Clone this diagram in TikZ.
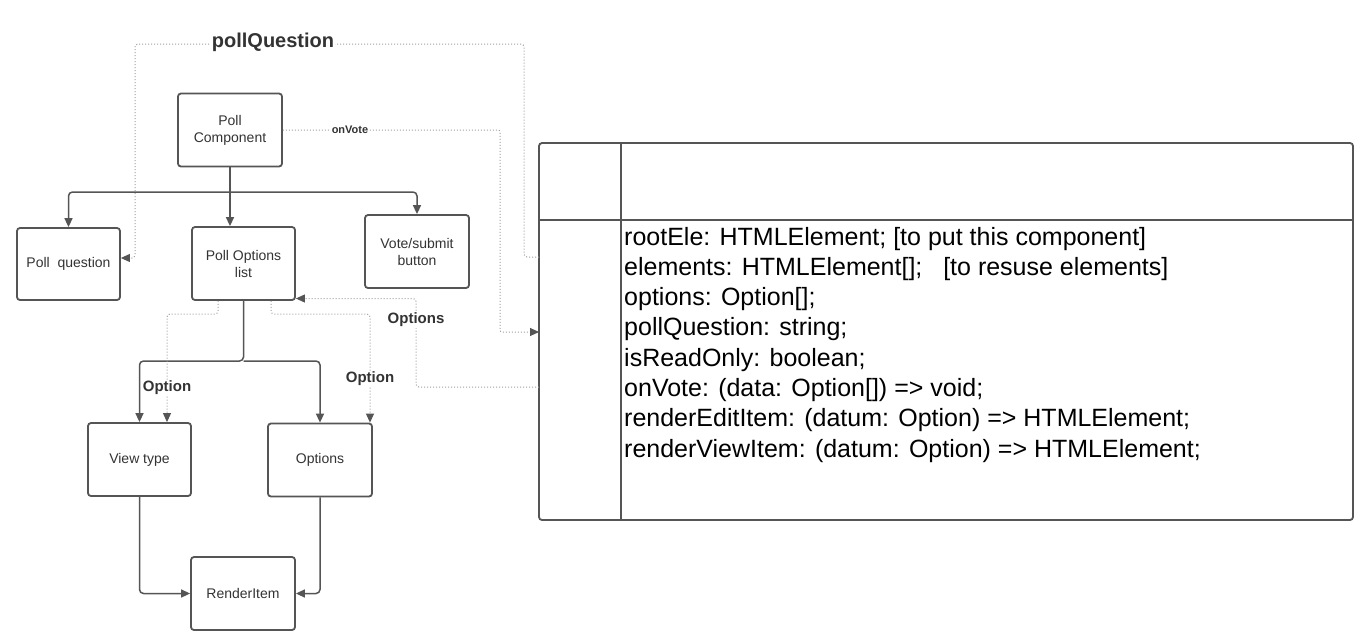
\documentclass[tikz,border=0pt]{standalone}
\usepackage{fontspec}
\setmainfont{Liberation Sans}
\usetikzlibrary{arrows.meta}
\definecolor{ln}{HTML}{555555}
\definecolor{dl}{HTML}{A0A0A0}
\definecolor{tx}{HTML}{333333}
\begin{document}
\begin{tikzpicture}[x=1pt,y=-1pt,
  box/.style={draw=ln,line width=1.8pt,rounded corners=3pt,minimum width=104pt,minimum height=73pt,align=center,font=\fontsize{14}{17}\selectfont,text=tx,inner sep=0pt},
  conn/.style={draw=ln,line width=1.5pt,rounded corners=4pt,-{Triangle[length=9pt,width=8pt,color=ln]}},
  dconn/.style={draw=dl,line width=1pt,dotted,rounded corners=3pt,-{Triangle[length=9pt,width=8pt,color=ln]}},
  lbl/.style={font=\bfseries\fontsize{15}{18}\selectfont,text=tx,fill=white,inner sep=1pt},
  attr/.style={font=\fontsize{25}{30}\selectfont,text=black,inner sep=0pt,anchor=base west}]
\useasboundingbox[fill=white] (0,0) rectangle (1368,638);

% boxes
\node[box] (pc) at (230,130) {Poll\\Component};
\node[box,minimum width=103pt,minimum height=72pt] (pq) at (68.5,264) {Poll\ \ question};
\node[box,minimum width=103pt] (pol) at (243.5,263.5) {Poll Options\\list};
\node[box] (vote) at (417,251.5) {Vote/submit\\button};
\node[box,minimum width=103pt] (view) at (139.5,459.5) {View type};
\node[box] (opts) at (320,460) {Options};
\node[box] (ri) at (243,593.5) {RenderItem};

% table
\node[draw=ln,line width=1.8pt,rounded corners=3pt,minimum width=814pt,minimum height=377pt,inner sep=0pt] (tbl) at (946,331.5) {};
\draw[ln,line width=1.8pt] (621,143) -- (621,520);
\draw[ln,line width=1.8pt] (539,220) -- (1353,220);

\node[attr] (a1) at (624,245) {rootEle: HTMLElement; [to put this component]};
\node[attr] (a2) at (624,275.3) {elements: HTMLElement[];\ \ \ [to resuse elements]};
\node[attr] (a3) at (624,305.6) {options: Option[];};
\node[attr] (a4) at (624,335.9) {pollQuestion: string;};
\node[attr] (a5) at (624,366.2) {isReadOnly: boolean;};
\node[attr] (a6) at (624,396.5) {onVote: (data: Option[]) => void;};
\node[attr] (a7) at (624,426.8) {renderEditItem: (datum: Option) => HTMLElement;};
\node[attr] (a8) at (624,457.1) {renderViewItem: (datum: Option) => HTMLElement;};

% solid connectors
\coordinate (j1) at (230,192);
\coordinate (j2) at (243.5,361);
\draw[conn] (pc.south) -- (pol.north -| pc.south);
\draw[conn] (j1) -| (pq.north);
\draw[conn] (j1) -| (vote.north);
\draw[conn] (pol.south) -- (j2) -| (view.north);
\draw[conn] (j2) -| (opts.north);
\draw[conn] (view.south) |- (ri.west);
\draw[conn] (opts.south) |- (ri.east);

% dotted connectors
\coordinate (tq) at (539,257);
\coordinate (tv) at (539,332);
\coordinate (to) at (539,387);
\draw[dconn] (tq) -- (524,257) -- (524,44) -- (135,44) |- ([yshift=6pt]pq.east);
\node[lbl,font=\bfseries\fontsize{20}{24}\selectfont] (lpq) at (273,42) {pollQuestion};
\draw[dconn,rounded corners=2pt] (pc.east) -- (500,130) |- (tv);
\node[lbl,font=\bfseries\fontsize{11}{13}\selectfont,inner sep=0.5pt] (lov) at (350,130) {onVote};
\draw[dconn] (to) -- (416,387) |- ([yshift=-35pt]pol.east);
\node[lbl] (los) at (416,320) {Options};
\draw[dconn] ([xshift=-25.5pt]pol.south) |- (200,314) -| ([xshift=27.5pt]view.north);
\node[lbl] (lo1) at (167,388) {Option};
\draw[dconn] ([xshift=27.5pt]pol.south) |- (300,314) -| ([xshift=50pt]opts.north);
\node[lbl] (lo2) at (370,379) {Option};
\end{tikzpicture}
\end{document}
